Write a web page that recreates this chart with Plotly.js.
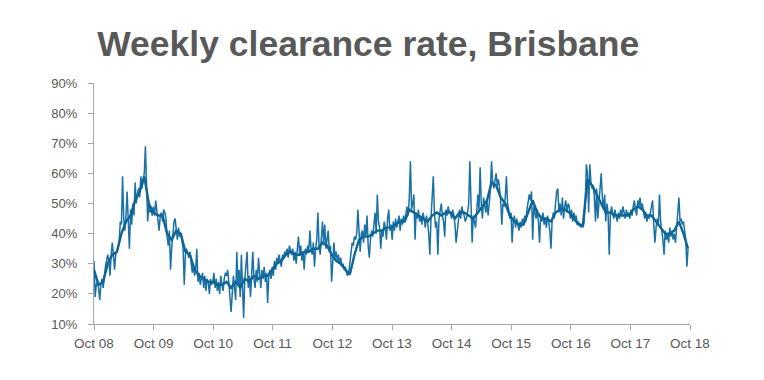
<!DOCTYPE html>
<html>
<head>
<meta charset="utf-8">
<script src="https://cdn.plot.ly/plotly-3.0.1.min.js"></script>
<style>html,body{margin:0;padding:0;background:#fff;}#chart{width:764px;height:380px;}</style>
</head>
<body>
<div id="chart"></div>
<script>
// Weekly clearance rate (%), one array per year starting Oct 2008
const weekly2008 = [31,19,23,24,22,18,23,25,22,27,29,31,33,31,26,33,37,33,28,33,34,35,37,44,43,59,45,41,46,54,44,35,48,43,50,46,57,50,53,55,52,59,55,58,60,69,58,44,50,47,48,46];
const weekly2009 = [49,46,51,47,45,41,46,47,44,48,47,45,39,36,41,28,35,40,44,45,41,38,42,39,40,37,35,23,33,35,33,32,34,29,27,30,26,28,35,24,27,23,25,27,22,26,21,25,24,20,25,23];
const weekly2010 = [24,27,22,25,21,24,20,26,23,21,25,27,26,28,24,19,14,20,26,22,18,34,23,28,19,33,21,12,25,29,34,22,26,19,27,34,25,22,28,24,32,26,22,28,25,29,24,27,17,26,28,25];
const weekly2011 = [29,26,31,28,32,30,33,31,29,33,32,34,33,35,32,36,34,33,35,31,34,30,35,39,33,36,31,34,28,35,33,36,34,41,35,33,37,29,35,38,47,36,33,38,44,37,43,35,38,41,34,36];
const weekly2012 = [24,33,37,32,34,31,33,30,32,29,30,28,29,27,26,27,31,35,37,36,39,38,40,48,38,34,40,41,37,43,39,46,36,32,38,41,39,43,47,40,53,44,42,35,41,39,44,42,38,45,48,41];
const weekly2013 = [43,38,44,41,45,42,44,46,41,45,43,46,44,47,49,46,52,64,48,50,53,38,47,45,48,44,46,43,47,45,42,46,44,40,33,45,52,59,47,42,44,33,45,47,50,46,44,39,48,46,49,47];
const weekly2014 = [47,45,48,46,43,37,41,46,48,45,49,47,46,44,45,47,50,64,45,37,46,44,42,47,53,48,62,50,45,52,49,47,51,46,50,55,64,57,55,58,60,56,58,55,51,43,50,49,52,59,50,48];
const weekly2015 = [45,47,37,44,46,42,45,43,41,44,42,45,43,46,44,48,50,53,51,54,38,49,47,45,48,44,37,46,44,47,43,45,42,46,44,41,35,44,47,45,50,54,55,47,50,46,52,45,49,51,47,50];
const weekly2016 = [49,45,48,44,47,45,46,43,44,43,42,43,42,44,50,63,60,47,63,57,55,56,52,44,55,45,50,54,60,52,48,53,44,50,47,33,46,49,47,45,48,46,44,47,45,48,46,49,47,45,48,46];
const weekly2017 = [47,45,48,46,49,51,48,46,51,49,52,48,50,47,45,47,44,46,45,47,49,51,43,37,42,45,43,53,44,41,38,33,41,38,40,37,42,39,41,38,40,37,42,44,52,44,45,43,44,41,38,29,35];

// Smoothed trend (%), one value every 4 weeks from Oct 2008
const trend = [
  28,23,24,30,33,34,40,44,46,51,54,59,50,
  47,46,46,40,38,41,40,34,33,28,26,25,24,
  24,23,23,24,22,24,22,25,24,26,25,26,26,
  28,30,31,33,34,33,33,34,34,35,35,37,36,
  33,31,30,28,26.5,33,38,39,39,40,41,41,42,
  42,43,44,44,48,47,46,45,44,46,47,46,47,
  47,45,47,47,46,45,47,49,51,57,56,52,50,
  46,44,43,43,47,51,47,45,45,44,47,48,48,
  47,45,43,43,58,56,53,50,47,47,46,46,46,
  46,48,49,48,46,46,44,42,40,40,41,44,40,35
];

const startDate = '2008-10-01';
const xTickVals = ['2008-10-01','2009-10-01','2010-10-01','2011-10-01','2012-10-01','2013-10-01','2014-10-01','2015-10-01','2016-10-01','2017-10-01','2018-10-01'];
const xTickText = ['Oct 08','Oct 09','Oct 10','Oct 11','Oct 12','Oct 13','Oct 14','Oct 15','Oct 16','Oct 17','Oct 18'];
const yTickVals = [10,20,30,40,50,60,70,80,90];
const yTickText = ['10%','20%','30%','40%','50%','60%','70%','80%','90%'];

const weekly = [].concat(weekly2008, weekly2009, weekly2010, weekly2011, weekly2012,
  weekly2013, weekly2014, weekly2015, weekly2016, weekly2017);

function datesFrom(start, n, stepDays) {
  const t0 = Date.parse(start + 'T00:00:00Z');
  const out = [];
  for (let i = 0; i < n; i++) {
    out.push(new Date(t0 + i * stepDays * 86400000).toISOString().slice(0, 10));
  }
  return out;
}

const weeklyDates = datesFrom(startDate, weekly.length, 7);
const trendDates = datesFrom(startDate, trend.length, 28);

const axisColor = '#a6a6a6';
const textColor = '#595959';
const font = 'Liberation Sans, Arial, sans-serif';

const data = [
  {x: weeklyDates, y: weekly, type: 'scatter', mode: 'lines',
   line: {color: '#1a71a6', width: 1.5}, hoverinfo: 'skip'},
  {x: trendDates, y: trend, type: 'scatter', mode: 'lines',
   line: {color: '#0d6596', width: 2.4}, hoverinfo: 'skip'}
];

const layout = {
  width: 764, height: 380,
  margin: {l: 94, r: 74, t: 83, b: 56},
  paper_bgcolor: '#ffffff', plot_bgcolor: '#ffffff',
  showlegend: false,
  font: {family: font, color: textColor},
  title: {
    text: 'Weekly clearance rate, Brisbane',
    font: {family: font, size: 35.5, color: textColor, weight: 'bold'},
    xref: 'container', x: 0.482, xanchor: 'center',
    yref: 'container', y: 0.885, yanchor: 'middle'
  },
  xaxis: {
    type: 'date', range: [xTickVals[0], xTickVals[xTickVals.length - 1]],
    tickmode: 'array', tickvals: xTickVals, ticktext: xTickText,
    showgrid: false, zeroline: false,
    showline: true, linecolor: axisColor, linewidth: 1,
    ticks: 'outside', ticklen: 5, tickcolor: axisColor, tickwidth: 1,
    ticklabelstandoff: 2,
    tickfont: {family: font, size: 13.5, color: textColor},
    fixedrange: true
  },
  yaxis: {
    range: [10, 90],
    tickmode: 'array', tickvals: yTickVals, ticktext: yTickText,
    showgrid: false, zeroline: false,
    showline: true, linecolor: axisColor, linewidth: 1,
    ticks: 'outside', ticklen: 5, tickcolor: axisColor, tickwidth: 1,
    ticklabelstandoff: 8,
    tickfont: {family: font, size: 13, color: textColor},
    fixedrange: true
  }
};

Plotly.newPlot('chart', data, layout, {displayModeBar: false, staticPlot: true});
</script>
</body>
</html>
